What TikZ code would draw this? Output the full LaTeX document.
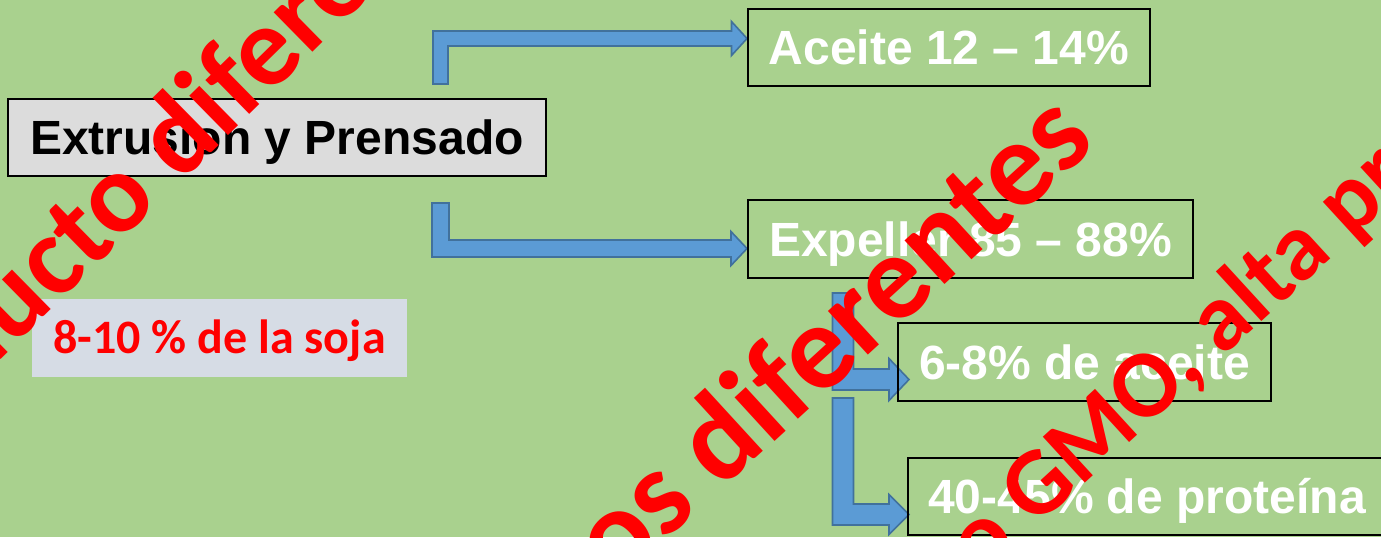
\documentclass[tikz,border=0pt]{standalone}
\usepackage{fontspec}
\setmainfont{Liberation Sans}
\newfontfamily\calibri{Carlito}
\usetikzlibrary{calc}
\definecolor{bggreen}{RGB}{169,209,142}
\definecolor{arrowfill}{RGB}{91,155,213}
\definecolor{arrowline}{RGB}{65,113,156}
\definecolor{boxgray}{RGB}{220,220,220}
\definecolor{sojagray}{RGB}{214,220,229}
\pgfdeclarelayer{back}
\pgfsetlayers{back,main}
\tikzset{
  box/.style={draw=black, line width=1pt, text=white, inner sep=0pt,
    font=\fontsize{24}{28}\selectfont\bfseries,
    text height=17.2pt, text depth=0pt, minimum height=38.5pt},
  blockarrow/.style={fill=arrowfill, draw=arrowline, line width=0.8pt, line join=miter},
  stamp/.style={text=red, font=\calibri\bfseries, rotate=42.5, anchor=base west, inner sep=0pt}
}
% bent block arrow: start, tip, side (-1 up, 1 down), half shaft, half head, head length
\newcommand{\bentarrow}[6]{%
  \draw[blockarrow] ($#1+(-#4,0)$) |- ($#2+({-#6},{(#3)*#4})$) -- ($#2+({-#6},{(#3)*#5})$) -- #2
    -- ($#2+({-#6},{-(#3)*#5})$) -- ($#2+({-#6},{-(#3)*#4})$) -| ($#1+(#4,0)$) -- cycle;}

\begin{document}
\begin{tikzpicture}[x=0.5pt,y=-0.5pt]
  \useasboundingbox (0,0) rectangle (1381,537);
  \clip (0,0) rectangle (1381,537);
  \begin{pgfonlayer}{back}
    \fill[bggreen] (0,0) rectangle (1381,537);
  \end{pgfonlayer}

  \node[box, fill=boxgray, text=black, minimum width=269pt] (ext) at (277,137.5) {Extrusion y Prensado};
  \node[box, minimum width=201pt] (aceite) at (949,47.5) {Aceite 12 – 14\%};
  \node[box, minimum width=222.5pt, minimum height=39pt] (expeller) at (970.5,239) {Expeller 85 – 88\%};
  \node[box, minimum width=186.5pt, minimum height=39pt] (grasa) at (1084.5,362) {6-8\% de aceite};
  \node[box, minimum width=239pt] (prot) at (1147,496.5) {40-45\% de proteína};
  \node[fill=sojagray, text=red, inner sep=0pt, minimum width=187.5pt, minimum height=39pt,
    font=\calibri\fontsize{24}{28}\selectfont\bfseries, text height=15.2pt, text depth=0pt]
    (soja) at (219.5,338) {8-10 \% de la soja};

  \coordinate (up1) at (440.5,84);
  \coordinate (dn1) at (440.5,203);
  \coordinate (dn2) at (843,293);
  \coordinate (dn3) at (843,398);
  \coordinate (t1) at ($(aceite.west)+(0,-9)$);
  \coordinate (t2) at ($(expeller.west)+(0,9.5)$);
  \coordinate (t3) at ($(grasa.west)+(12,17.5)$);
  \coordinate (t4) at ($(prot.west)+(2,18)$);

  \begin{pgfonlayer}{back}
    \bentarrow{(up1)}{(t1)}{-1}{7.5}{17}{15.5}
    \bentarrow{(dn1)}{(t2)}{1}{8.5}{17}{16}
    \bentarrow{(dn2)}{(t3)}{1}{10.5}{21}{20}
    \bentarrow{(dn3)}{(t4)}{1}{10.5}{20}{20}
  \end{pgfonlayer}

  % watermark texts
  \node[stamp, rotate=2, font=\calibri\bfseries\fontsize{57}{68}\selectfont] (stampa) at (-146.4,504.3) {producto diferente};
  \node[stamp, font=\calibri\bfseries\fontsize{61}{73}\selectfont] (stampb) at (324,854) {productos diferentes};
  \node[stamp, font=\calibri\bfseries\fontsize{48}{58}\selectfont] (stampc) at (943,613.6) {no GMO, alta proteína};
\end{tikzpicture}
\end{document}
